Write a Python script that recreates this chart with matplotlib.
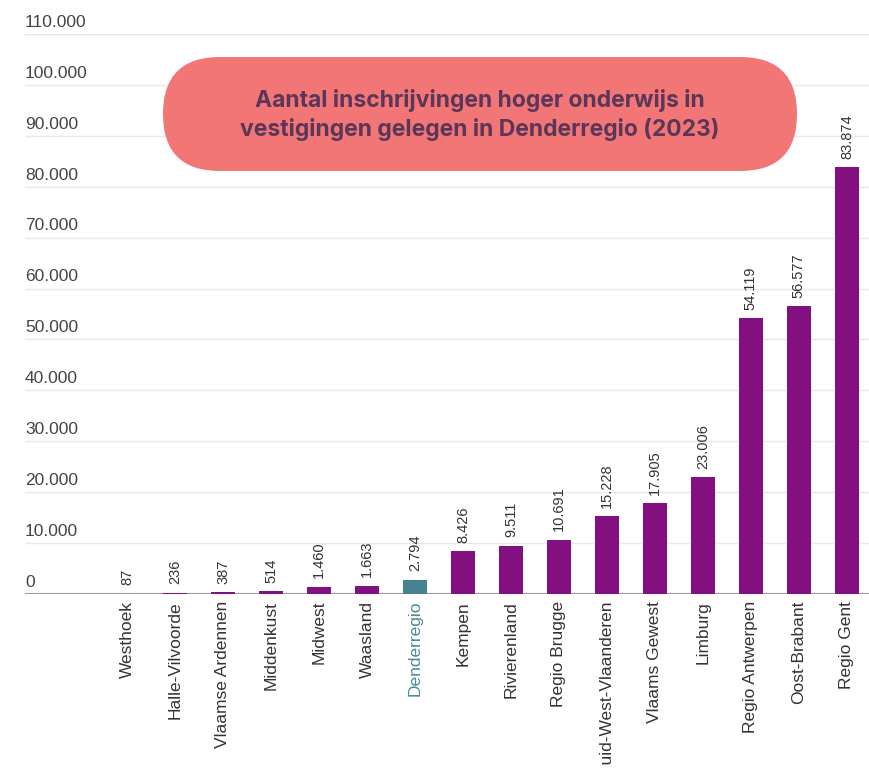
import matplotlib
matplotlib.use("Agg")
import matplotlib.pyplot as plt
from matplotlib.patches import FancyBboxPatch
from matplotlib.transforms import Bbox, blended_transform_factory

regions = [
    "Westhoek", "Halle-Vilvoorde", "Vlaamse Ardennen", "Middenkust", "Midwest",
    "Waasland", "Denderregio", "Kempen", "Rivierenland", "Regio Brugge",
    "Zuid-West-Vlaanderen", "Vlaams Gewest", "Limburg", "Regio Antwerpen",
    "Oost-Brabant", "Regio Gent",
]
counts = [87, 236, 387, 514, 1460, 1663, 2794, 8426, 9511, 10691,
          15228, 17905, 23006, 54119, 56577, 83874]
highlight = "Denderregio"
yticks = list(range(0, 110001, 10000))

PURPLE = "#82117f"
TEAL = "#468290"
TEAL_TXT = "#4a8a96"
GRID = "#e8e8e8"
TXT = "#444444"


def fmt(v):
    return f"{v:,}".replace(",", ".")


fig = plt.figure(figsize=(8.69, 7.79), dpi=100)
ax = fig.add_axes([25 / 869, (779 - 594) / 779, 1 - 25 / 869, (594 - 34) / 779])

x = list(range(len(regions)))
colors = [TEAL if r == highlight else PURPLE for r in regions]
ax.bar(x, counts, width=0.5, color=colors, zorder=4)

ax.set_ylim(0, 110000)
ax.set_xlim(-2.125, len(regions) - 1 + 0.46)

for s in ax.spines.values():
    s.set_visible(False)
ax.set_yticks(yticks)
ax.set_yticklabels([])
ax.tick_params(axis="y", length=0)
ax.grid(axis="y", color=GRID, linewidth=1, zorder=0)
ax.axhline(0, color="#9a9a9a", linewidth=1.5, zorder=3)

trans = blended_transform_factory(ax.transAxes, ax.transData)
for v in yticks:
    ax.annotate(fmt(v) if v else "0", (0, v), xycoords=trans, xytext=(0, 3),
                textcoords="offset points", ha="left", va="bottom",
                fontsize=12.5, color=TXT, family="Liberation Sans")

for xi, v in zip(x, counts):
    ax.annotate(fmt(v), (xi, v), xytext=(0, 6), textcoords="offset points",
                rotation=90, ha="center", va="bottom", fontsize=10.5,
                color="#333333", family="Liberation Sans")

ax.set_xticks(x)
ax.set_xticklabels(regions, rotation=90, fontsize=12.5, family="Liberation Sans",
                   color="#333333")
ax.tick_params(axis="x", length=0, pad=5)
# labels are cut off near the bottom edge, as in the original
clip = Bbox.from_extents(0, 14, 869, 779)
for lbl in ax.get_xticklabels():
    lbl.set_clip_box(clip)
    lbl.set_clip_on(True)
    if lbl.get_text() == highlight:
        lbl.set_color(TEAL_TXT)

# title pill
pill = FancyBboxPatch((1.63, (779 - 171) / 100), 7.97 - 1.63, 1.14,
                      boxstyle="round,pad=0,rounding_size=0.57",
                      transform=fig.dpi_scale_trans, facecolor="#f27676",
                      edgecolor="none", zorder=5)
fig.patches.append(pill)
fig.text(480 / 869, (779 - 115) / 779,
         "Aantal inschrijvingen hoger onderwijs in\nvestigingen gelegen in Denderregio (2023)",
         ha="center", va="center", fontsize=16.5, fontweight="bold", family="Inter",
         color="#5b3658", linespacing=1.3, zorder=6)

fig.savefig("out.png", dpi=100)
